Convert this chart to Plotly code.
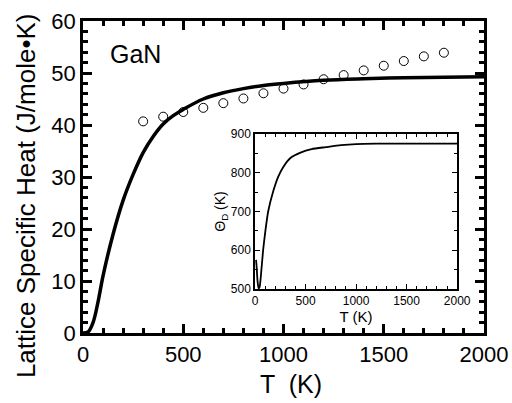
import plotly.graph_objects as go

# Main curve (calculated lattice specific heat)
curve_T = [0, 25, 50, 75, 100, 150, 200, 250, 300, 350, 400, 450, 500, 600, 700, 800, 900, 1000, 1200, 1400, 1600, 1800, 2000]
curve_C = [0, 0.2, 2, 6, 11, 19, 25.5, 30.5, 34.7, 37.8, 40.2, 41.8, 43.0, 45.0, 46.2, 47.0, 47.6, 48.0, 48.6, 48.9, 49.1, 49.2, 49.3]

# Experimental points (circles)
exp_T = [300, 400, 500, 600, 700, 800, 900, 1000, 1100, 1200, 1300, 1400, 1500, 1600, 1700, 1800]
exp_C = [40.7, 41.6, 42.5, 43.3, 44.2, 45.1, 46.1, 47.0, 47.8, 48.8, 49.6, 50.5, 51.4, 52.3, 53.2, 53.9]

# Inset: Debye temperature
inset_T = [10, 15, 25, 35, 45, 60, 80, 100, 130, 180, 230, 280, 350, 450, 560, 700, 850, 1000, 1200, 2000]
inset_Th = [575, 560, 520, 502, 505, 540, 600, 645, 700, 752, 790, 815, 838, 852, 861, 866, 871, 874, 875, 875]

font = "Liberation Sans, Arial, sans-serif"

fig = go.Figure()
fig.add_trace(go.Scatter(x=curve_T, y=curve_C, mode="lines", line=dict(color="black", width=3.5, shape="spline"),
                         showlegend=False, xaxis="x", yaxis="y"))
fig.add_trace(go.Scatter(x=exp_T, y=exp_C, mode="markers",
                         marker=dict(symbol="circle-open", size=9, color="black", line=dict(width=1)),
                         showlegend=False, xaxis="x", yaxis="y"))
fig.add_trace(go.Scatter(x=inset_T, y=inset_Th, mode="lines",
                         line=dict(color="black", width=1.8, shape="spline", smoothing=0.6),
                         showlegend=False, xaxis="x2", yaxis="y2"))

main_axis = dict(showgrid=False, zeroline=False, showline=True, linecolor="black", linewidth=2.5,
                 mirror="allticks", ticks="inside", tickcolor="black", tickwidth=2.5, ticklen=9,
                 automargin=False, tickfont=dict(family=font, size=22, color="black"))

fig.update_layout(
    width=512, height=403,
    margin=dict(l=83, r=28, t=21, b=70),
    paper_bgcolor="white", plot_bgcolor="white",
    xaxis=dict(main_axis, range=[0, 2000], tickvals=[0, 500, 1000, 1500, 2000],
               minor=dict(dtick=100, ticks="inside", ticklen=5, tickwidth=2.5, tickcolor="black")),
    yaxis=dict(main_axis, range=[0, 60], tickvals=[0, 10, 20, 30, 40, 50, 60],
               minor=dict(dtick=2, ticks="inside", ticklen=5, tickwidth=2.5, tickcolor="black")),
    xaxis2=dict(domain=[0.429, 0.933], anchor="y2", range=[0, 2000], tickvals=[0, 500, 1000, 1500, 2000],
                showgrid=False, zeroline=False, showline=True, linecolor="black", linewidth=1.5, mirror="allticks",
                ticks="inside", ticklen=5, tickwidth=1.2, tickcolor="black", automargin=False,
                minor=dict(dtick=100, ticks="inside", ticklen=3, tickwidth=1, tickcolor="black"),
                tickfont=dict(family=font, size=12, color="black"),
                title=dict(text="T (K)", font=dict(family=font, size=15, color="black"), standoff=0)),
    yaxis2=dict(domain=[0.141, 0.638], anchor="x2", range=[500, 900], tickvals=[500, 600, 700, 800, 900],
                showgrid=False, zeroline=False, showline=True, linecolor="black", linewidth=1.5, mirror="allticks",
                ticks="inside", ticklen=5, tickwidth=1.2, tickcolor="black", automargin=False,
                minor=dict(dtick=50, ticks="inside", ticklen=3, tickwidth=1, tickcolor="black"),
                tickfont=dict(family=font, size=12, color="black"),
                title=dict(text="\u0398<sub>D</sub> (K)", font=dict(family=font, size=14, color="black"), standoff=2)),
    annotations=[
        dict(x=0.062, y=0.894, xref="paper", yref="paper", text="GaN", showarrow=False,
             xanchor="left", yanchor="middle", font=dict(family=font, size=25, color="black")),
        dict(x=-0.142, y=0.439, xref="paper", yref="paper", text="Lattice Specific Heat (J/mole\u2022K)",
             showarrow=False, textangle=-90, xanchor="center", yanchor="middle",
             font=dict(family=font, size=26, color="black")),
        dict(x=0.519, y=-0.163, xref="paper", yref="paper", text="T  (K)",
             showarrow=False, xanchor="center", yanchor="middle",
             font=dict(family=font, size=25, color="black")),
    ],
)

fig.write_html("out.html", config={"displayModeBar": False},
               post_script="document.body.style.margin='0';document.body.style.overflow='hidden';")
